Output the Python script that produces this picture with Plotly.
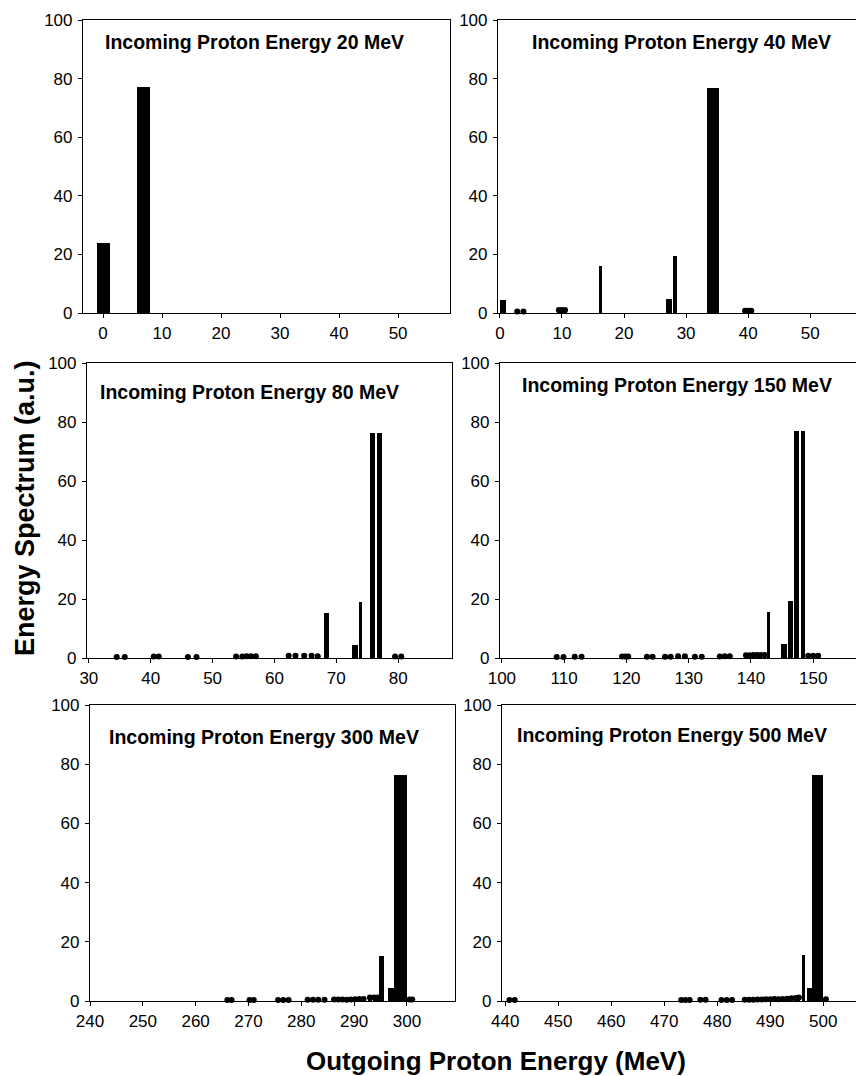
import plotly.graph_objects as go

# ---------------- data ----------------
titles = ["Incoming Proton Energy 20 MeV", "Incoming Proton Energy 40 MeV",
          "Incoming Proton Energy 80 MeV", "Incoming Proton Energy 150 MeV",
          "Incoming Proton Energy 300 MeV", "Incoming Proton Energy 500 MeV"]

e20_x = [-0.8, -0.4, 0.0, 0.4, 0.8, 6.0, 6.4, 6.8, 7.2, 7.6]
e20_y = [24, 24, 24, 24, 24, 77.3, 77.3, 77.3, 77.3, 77.3]

e40_x = [0.3, 0.7, 2.8, 3.8, 9.5, 10.0, 10.5, 16.2, 27.0, 27.4, 28.2,
         33.6, 34.0, 34.4, 34.8, 35.0, 39.5, 40.0, 40.5]
e40_y = [4.5, 4.5, 0.5, 0.5, 1.0, 1.0, 1.0, 15.9, 4.8, 4.8, 19.5,
         76.7, 76.7, 76.7, 76.7, 76.7, 0.8, 0.8, 0.8]

e80_x = [34.5, 35.8, 40.5, 41.3, 46.0, 47.4, 53.8, 54.8, 55.5, 56.2, 57.0,
         62.3, 63.4, 64.8, 66.0, 67.0, 68.3, 68.6, 72.8, 73.2, 73.9,
         75.7, 76.0, 76.8, 77.1, 79.5, 80.5]
e80_y = [0.3, 0.3, 0.5, 0.5, 0.3, 0.3, 0.5, 0.5, 0.6, 0.6, 0.6,
         0.8, 0.8, 0.8, 0.8, 0.6, 15.3, 15.3, 4.5, 4.5, 19.0,
         76.4, 76.4, 76.4, 76.4, 0.5, 0.5]

e150_x = [108.8, 109.9, 111.7, 112.8, 119.3, 119.8, 120.3, 123.3, 124.2,
          126.2, 127.1, 128.3, 129.4, 131.0, 132.1, 135.0, 135.8, 136.6,
          139.2, 139.8, 140.4, 141.0, 141.6, 142.2, 142.8,
          145.1, 145.5, 146.2, 146.5, 147.2, 147.5, 148.2, 148.5,
          149.2, 150.0, 150.8]
e150_y = [0.3, 0.3, 0.4, 0.4, 0.5, 0.5, 0.5, 0.4, 0.4,
          0.4, 0.4, 0.6, 0.6, 0.4, 0.4, 0.5, 0.6, 0.6,
          0.9, 0.9, 1.0, 1.0, 1.0, 1.0, 15.6,
          4.9, 4.9, 19.4, 19.4, 76.8, 76.8, 76.8, 76.8,
          0.8, 0.8, 0.8]

e300_x = [266.0, 266.8, 270.2, 271.0, 275.6, 276.6, 277.6,
          281.2, 282.2, 283.2, 284.4,
          286.2, 287.0, 287.8, 288.6, 289.4, 290.2, 291.0, 291.8,
          293.0, 293.8, 294.5, 295.1, 295.4, 296.8, 297.3,
          297.8, 298.2, 298.6, 299.0, 299.4, 299.8, 300.5, 301.0]
e300_y = [0.3, 0.3, 0.3, 0.3, 0.3, 0.3, 0.3,
          0.4, 0.4, 0.4, 0.4,
          0.5, 0.5, 0.5, 0.4, 0.5, 0.6, 0.7, 0.7,
          1.2, 1.2, 1.2, 15.3, 15.3, 4.5, 4.5,
          76.3, 76.3, 76.3, 76.3, 76.3, 76.3, 0.5, 0.5]

e500_x = [440.8, 441.8, 473.2, 474.0, 474.8, 476.8, 477.8, 480.8, 481.8, 482.8,
          485.2, 486.0, 486.8, 487.6, 488.4, 489.2, 490.0, 490.8, 491.6, 492.4,
          493.2, 494.0, 494.8, 495.4, 496.2, 497.3, 497.8,
          498.2, 498.6, 499.0, 499.4, 499.7, 500.5]
e500_y = [0.3, 0.3, 0.3, 0.3, 0.3, 0.4, 0.4, 0.3, 0.3, 0.3,
          0.4, 0.4, 0.4, 0.5, 0.5, 0.6, 0.6, 0.7, 0.6, 0.7,
          0.8, 0.9, 1.0, 1.2, 15.6, 4.5, 4.5,
          76.3, 76.3, 76.3, 76.3, 76.3, 0.6]

x_ticks = [[0, 10, 20, 30, 40, 50], [0, 10, 20, 30, 40, 50],
           [30, 40, 50, 60, 70, 80], [100, 110, 120, 130, 140, 150],
           [240, 250, 260, 270, 280, 290, 300], [440, 450, 460, 470, 480, 490, 500]]
y_ticks = [0, 20, 40, 60, 80, 100]

series = [(e20_x, e20_y), (e40_x, e40_y), (e80_x, e80_y),
          (e150_x, e150_y), (e300_x, e300_y), (e500_x, e500_y)]

# ---------------- layout (screen pixels -> paper) ----------------
OFF = 8                      # default page margin before the plot div
W, H = 864 - OFF, 1076 - OFF


def px(x):
    return (x - OFF) / W


def py(y):
    return 1 - (y - OFF) / H


x_ranges = [[-3.4, 58.8], [-0.3, 58.5], [29.7, 88.7], [99.7, 158.0],
            [240.0, 309.1], [439.4, 507.5]]
px_dom = [(83, 450, 20, 313), (498, 863, 20, 313),
          (87, 452, 363, 658), (500, 863, 363, 658),
          (90, 455, 705, 1001), (502, 863, 705, 1001)]
bar_w = [0.6, 0.6, 0.45, 0.45, 0.6, 0.6]
title_pos = [(103, 42), (530, 42), (98, 392), (520, 385), (107, 737), (515, 735)]

FONT = "Liberation Sans, Arial, sans-serif"
fig = go.Figure()

for i, (xs, ys) in enumerate(series):
    n = i + 1
    xa = "x" if n == 1 else f"x{n}"
    ya = "y" if n == 1 else f"y{n}"
    fig.add_trace(go.Bar(x=xs, y=ys, width=bar_w[i], marker=dict(color="black", line=dict(width=0)),
                         xaxis=xa, yaxis=ya, showlegend=False))
    sx = [x for x, y in zip(xs, ys) if y < 2]
    sy = [y for x, y in zip(xs, ys) if y < 2]
    fig.add_trace(go.Scatter(x=sx, y=sy, mode="markers",
                             marker=dict(color="black", size=6, symbol="circle"),
                             xaxis=xa, yaxis=ya, showlegend=False, cliponaxis=False))
    l, r, t, b = px_dom[i]
    common = dict(showgrid=False, zeroline=False, showline=True, linecolor="black",
                  linewidth=1.2, mirror=True, ticks="outside", ticklen=4, tickcolor="black",
                  automargin=False,
                  tickfont=dict(family=FONT, size=17, color="black"))
    fig.layout[f"xaxis{'' if n == 1 else n}"] = dict(
        domain=[max(0, px(l)), min(1, px(r))], range=x_ranges[i], tickvals=x_ticks[i],
        anchor=ya, fixedrange=True, **common)
    fig.layout[f"yaxis{'' if n == 1 else n}"] = dict(
        domain=[py(b), py(t)], range=[0, 100], tickvals=y_ticks,
        anchor=xa, fixedrange=True, ticklabelstandoff=2, **common)
    tx, ty = title_pos[i]
    fig.add_annotation(text=f"<b>{titles[i]}</b>", xref="paper", yref="paper",
                       x=px(tx), y=py(ty), xanchor="left", yanchor="middle",
                       showarrow=False, font=dict(family=FONT, size=19.5, color="black"))

fig.add_annotation(text="<b>Energy Spectrum (a.u.)</b>", xref="paper", yref="paper",
                   x=px(25), y=py(508), textangle=-90, showarrow=False,
                   xanchor="center", yanchor="middle",
                   font=dict(family=FONT, size=27, color="black"))
fig.add_annotation(text="<b>Outgoing Proton Energy (MeV)</b>", xref="paper", yref="paper",
                   x=px(496), y=py(1061), showarrow=False,
                   xanchor="center", yanchor="middle",
                   font=dict(family=FONT, size=26, color="black"))

fig.update_layout(width=W, height=H, margin=dict(l=0, r=0, t=0, b=0, autoexpand=False),
                  paper_bgcolor="white", plot_bgcolor="white", bargap=0,
                  barmode="overlay")

fig.write_html("out.html")
